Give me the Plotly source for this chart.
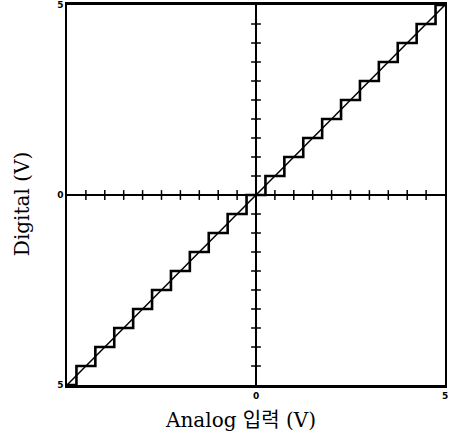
import plotly.graph_objects as go

# Quantizer staircase (input breakpoints, output levels in V)
step_x = [-5, -4.75, -4.25, -3.75, -3.25, -2.75, -2.25, -1.75, -1.25, -0.75, -0.25,
          0.25, 0.75, 1.25, 1.75, 2.25, 2.75, 3.25, 3.75, 4.25, 4.75, 5]
step_y = [-5, -4.5, -4, -3.5, -3, -2.5, -2, -1.5, -1, -0.5, 0,
          0.5, 1, 1.5, 2, 2.5, 3, 3.5, 4, 4.5, 5, 5]

# Ideal analog line
ideal_x = [-5, 5]
ideal_y = [-5, 5]

# Tick marks along the zero axes
axis_ticks = [-4.5, -4, -3.5, -3, -2.5, -2, -1.5, -1, -0.5,
              0.5, 1, 1.5, 2, 2.5, 3, 3.5, 4, 4.5]
zeros = [0] * len(axis_ticks)

x_tickvals = [0, 5]
x_ticktext = ["<b>0</b>", "<b>5</b>"]
y_tickvals = [-5, 0, 5]
y_ticktext = ["<b>5</b>", "<b>0</b>", "<b>5</b>"]

fig = go.Figure()
fig.add_trace(go.Scatter(x=ideal_x, y=ideal_y, mode="lines",
                         line=dict(color="black", width=1.5), hoverinfo="skip"))
fig.add_trace(go.Scatter(x=step_x, y=step_y, mode="lines", line_shape="hv",
                         line=dict(color="black", width=2.6), hoverinfo="skip"))
fig.add_trace(go.Scatter(x=axis_ticks, y=zeros, mode="markers",
                         marker=dict(symbol="line-ns", size=7,
                                     line=dict(color="black", width=1.5)),
                         hoverinfo="skip"))
fig.add_trace(go.Scatter(x=zeros, y=axis_ticks, mode="markers",
                         marker=dict(symbol="line-ew", size=7,
                                     line=dict(color="black", width=1.5)),
                         hoverinfo="skip"))

fig.update_layout(
    width=449, height=436,
    margin=dict(l=67, r=4, t=5, b=51, autoexpand=False),
    paper_bgcolor="white", plot_bgcolor="white",
    showlegend=False,
    font=dict(family="DejaVu Sans", color="black", size=9),
    xaxis=dict(range=[-5, 5], showgrid=False, zeroline=True, zerolinecolor="black",
               zerolinewidth=1.5, showline=True, linecolor="black", linewidth=2.6,
               mirror=True, tickvals=x_tickvals, ticktext=x_ticktext, ticks="",
               ticklen=0, tickfont=dict(size=9, family="DejaVu Sans")),
    yaxis=dict(range=[-5, 5], showgrid=False, zeroline=True, zerolinecolor="black",
               zerolinewidth=2, showline=True, linecolor="black", linewidth=1.5,
               mirror=True, tickvals=y_tickvals, ticktext=y_ticktext, ticks="",
               ticklen=0, tickfont=dict(size=9, family="DejaVu Sans")),
    annotations=[
        dict(text="Analog 입력 (V)", xref="paper", yref="paper", x=0.458, y=-0.092,
             showarrow=False, xanchor="center", yanchor="middle",
             font=dict(family="DejaVu Serif, Noto Sans CJK KR", size=20, color="black")),
        dict(text="Digital (V)", xref="paper", yref="paper", x=-0.119, y=0.476,
             showarrow=False, xanchor="center", yanchor="middle", textangle=-90,
             font=dict(family="DejaVu Serif", size=20, color="black")),
    ],
)

fig.write_html("out.html",
               config={"displayModeBar": False},
               post_script="document.body.style.margin='0';document.body.style.overflow='hidden';")
